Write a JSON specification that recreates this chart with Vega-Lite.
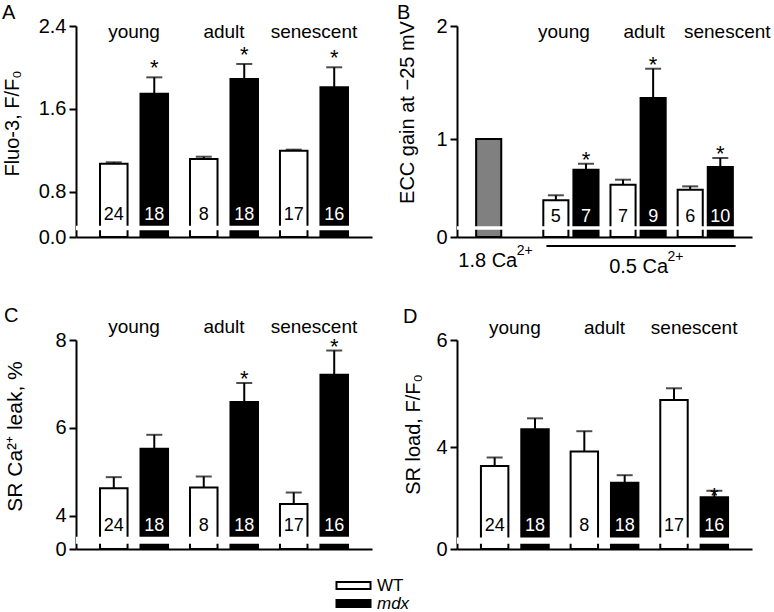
{
  "$schema": "https://vega.github.io/schema/vega-lite/v6.json",
  "autosize": {"type": "pad"},
  "padding": {"left": 2, "top": 3, "right": 0, "bottom": 4},
  "background": "white",
  "config": {
    "font": "Liberation Sans",
    "view": {"stroke": null},
    "axis": {"domainColor": "black", "domainWidth": 2, "tickColor": "black", "tickWidth": 2, "tickSize": 7, "labelColor": "black", "labelFontSize": 20, "labelPadding": 3, "titleFontSize": 20, "titleFontWeight": "normal", "titleColor": "black", "grid": false, "labelFont": "Liberation Sans", "titleFont": "Liberation Sans"},
    "title": {"fontSize": 20, "fontWeight": "normal", "color": "black", "anchor": "start", "frame": "bounds", "offset": -7, "font": "Liberation Sans"},
    "text": {"font": "Liberation Sans", "color": "black"}
  },
  "columns": 2,
  "spacing": {"row": 103, "column": 85},
  "bounds": "flush",
  "resolve": {"scale": {"x": "independent", "y": "independent", "xOffset": "independent", "fill": "shared"}},
  "concat": [
    {
      "width": 296, "height": 211,
      "title": {"text": "A"},
      "data": {"values": [
        {"group": "young", "genotype": "WT", "series": "WT", "value": 1.073, "err": 1.086, "n": 24, "sig": false},
        {"group": "young", "genotype": "mdx", "series": "mdx", "value": 1.747, "err": 1.905, "n": 18, "sig": true},
        {"group": "adult", "genotype": "WT", "series": "WT", "value": 1.118, "err": 1.140, "n": 8, "sig": false},
        {"group": "adult", "genotype": "mdx", "series": "mdx", "value": 1.889, "err": 2.034, "n": 18, "sig": true},
        {"group": "senescent", "genotype": "WT", "series": "WT", "value": 1.198, "err": 1.208, "n": 17, "sig": false},
        {"group": "senescent", "genotype": "mdx", "series": "mdx", "value": 1.809, "err": 2.002, "n": 16, "sig": true}
      ]},
      "encoding": {
        "x": {"field": "group", "type": "nominal", "sort": null, "scale": {"domain": ["young", "adult", "senescent"], "paddingInner": 0.244, "paddingOuter": 0.267}, "axis": {"title": null, "labels": false, "ticks": false}},
        "xOffset": {"field": "genotype", "type": "nominal", "scale": {"domain": ["WT", "mdx"], "paddingInner": 0.32, "paddingOuter": 0}}
      },
      "layer": [
        {"mark": {"type": "bar", "stroke": "black", "strokeWidth": 2},
         "encoding": {
           "y": {"field": "value", "type": "quantitative", "scale": {"domain": [0, 0.475, 2.4], "range": [211, 199.7, 0], "nice": false, "zero": false}, "axis": {"values": [0, 0.8, 1.6, 2.4], "format": ".1f", "title": "Fluo-3, F/F₀", "titleX": -54, "titleY": 97, "titleBaseline": "bottom"}},
           "y2": {"datum": 0},
           "fill": {"field": "series", "type": "nominal", "scale": {"domain": ["WT", "mdx", "1.8 Ca"], "range": ["white", "black", "#808080"]},
             "legend": {"title": null, "orient": "none", "legendX": 269, "legendY": 551, "direction": "vertical", "values": ["WT", "mdx"], "symbolType": "M-2.43,-0.5H2.43V0.5H-2.43Z", "symbolSize": 196, "symbolStrokeColor": "black", "symbolStrokeWidth": 2, "labelFontSize": 17, "labelOffset": 15, "rowPadding": 0, "padding": 0, "labelColor": "black", "labelFont": "Liberation Sans", "encode": {"labels": {"update": {"fontStyle": {"signal": "datum.label === 'mdx' ? 'italic' : 'normal'"}}}}}}
         }},
        {"transform": [{"filter": "isValid(datum.err)"}], "mark": {"type": "rule", "strokeWidth": 2, "color": "black"},
         "encoding": {"y": {"field": "value", "type": "quantitative"}, "y2": {"field": "err"}}},
        {"transform": [{"filter": "isValid(datum.err)"}], "mark": {"type": "tick", "size": 16, "thickness": 2, "color": "black"},
         "encoding": {"y": {"field": "err", "type": "quantitative"}}},
        {"mark": {"type": "rect", "fill": "white", "xOffset": -4, "x2Offset": 4}, "data": {"values": [{}]},
         "encoding": {"x": null, "xOffset": null, "y": {"datum": 0.28}, "y2": {"datum": 0.475}}},
        {"mark": {"type": "text", "fontSize": 18, "baseline": "middle", "dy": -22},
         "encoding": {"y": {"datum": 0}, "text": {"field": "n", "type": "nominal"},
           "color": {"condition": {"test": "datum.genotype === 'mdx'", "value": "white"}, "value": "black"}}},
        {"transform": [{"filter": "datum.sig"}], "mark": {"type": "text", "fontSize": 22, "baseline": "alphabetic", "dy": -2},
         "encoding": {"y": {"field": "err", "type": "quantitative"}, "text": {"value": "*"}}},
        {"transform": [{"filter": "datum.genotype === 'WT'"}], "mark": {"type": "text", "fontSize": 19, "baseline": "alphabetic", "dy": 12},
         "encoding": {"xOffset": null, "y": {"datum": 2.4}, "text": {"field": "group", "type": "nominal"}}}
      ]
    },
    {
      "width": 295, "height": 211,
      "title": {"text": "B"},
      "data": {"values": [
        {"group": "1.8 Ca", "genotype": "WT", "series": "1.8 Ca", "value": 1.0, "err": null, "n": null, "sig": false},
        {"group": "young", "genotype": "WT", "series": "WT", "value": 0.458, "err": 0.502, "n": 5, "sig": false},
        {"group": "young", "genotype": "mdx", "series": "mdx", "value": 0.728, "err": 0.781, "n": 7, "sig": true},
        {"group": "adult", "genotype": "WT", "series": "WT", "value": 0.596, "err": 0.640, "n": 7, "sig": false},
        {"group": "adult", "genotype": "mdx", "series": "mdx", "value": 1.363, "err": 1.622, "n": 9, "sig": true},
        {"group": "senescent", "genotype": "WT", "series": "WT", "value": 0.552, "err": 0.581, "n": 6, "sig": false},
        {"group": "senescent", "genotype": "mdx", "series": "mdx", "value": 0.752, "err": 0.832, "n": 10, "sig": true}
      ]},
      "encoding": {
        "x": {"field": "group", "type": "nominal", "sort": null, "scale": {"domain": ["1.8 Ca", "young", "adult", "senescent"], "paddingInner": 0.178, "paddingOuter": 0.285}, "axis": {"title": null, "labels": false, "ticks": false}},
        "xOffset": {"field": "genotype", "type": "nominal", "scale": {"domain": ["WT", "mdx"], "paddingInner": 0.166, "paddingOuter": 0}}
      },
      "layer": [
        {"mark": {"type": "bar", "stroke": "black", "strokeWidth": 2},
         "encoding": {
           "y": {"field": "value", "type": "quantitative", "scale": {"domain": [0, 0.2275, 2], "range": [211, 200.3, 0], "nice": false, "zero": false}, "axis": {"values": [0, 1, 2], "format": ".0f", "title": "ECC gain at −25 mV", "titleX": -40, "titleY": 86, "titleBaseline": "bottom"}},
           "y2": {"datum": 0},
           "fill": {"field": "series", "type": "nominal", "scale": {"domain": ["WT", "mdx", "1.8 Ca"], "range": ["white", "black", "#808080"]},
             "legend": {"title": null, "orient": "none", "legendX": 269, "legendY": 551, "direction": "vertical", "values": ["WT", "mdx"], "symbolType": "M-2.43,-0.5H2.43V0.5H-2.43Z", "symbolSize": 196, "symbolStrokeColor": "black", "symbolStrokeWidth": 2, "labelFontSize": 17, "labelOffset": 15, "rowPadding": 0, "padding": 0, "labelColor": "black", "labelFont": "Liberation Sans", "encode": {"labels": {"update": {"fontStyle": {"signal": "datum.label === 'mdx' ? 'italic' : 'normal'"}}}}}}
         }},
        {"transform": [{"filter": "isValid(datum.err)"}], "mark": {"type": "rule", "strokeWidth": 2, "color": "black"},
         "encoding": {"y": {"field": "value", "type": "quantitative"}, "y2": {"field": "err"}}},
        {"transform": [{"filter": "isValid(datum.err)"}], "mark": {"type": "tick", "size": 16, "thickness": 2, "color": "black"},
         "encoding": {"y": {"field": "err", "type": "quantitative"}}},
        {"mark": {"type": "rect", "fill": "white", "xOffset": -4, "x2Offset": 4}, "data": {"values": [{}]},
         "encoding": {"x": null, "xOffset": null, "y": {"datum": 0.155}, "y2": {"datum": 0.2275}}},
        {"transform": [{"filter": "isValid(datum.n)"}], "mark": {"type": "text", "fontSize": 18, "baseline": "middle", "dy": -20.5},
         "encoding": {"y": {"datum": 0}, "text": {"field": "n", "type": "nominal"},
           "color": {"condition": {"test": "datum.genotype === 'mdx'", "value": "white"}, "value": "black"}}},
        {"transform": [{"filter": "datum.sig"}], "mark": {"type": "text", "fontSize": 22, "baseline": "alphabetic", "dy": 3},
         "encoding": {"y": {"field": "err", "type": "quantitative"}, "text": {"value": "*"}}},
        {"data": {"values": [{}]}, "mark": {"type": "text", "fontSize": 19, "baseline": "alphabetic", "dy": 11.5, "dx": -7},
         "encoding": {"x": {"datum": "young"}, "xOffset": null, "y": {"datum": 2}, "text": {"value": "young"}}},
        {"data": {"values": [{}]}, "mark": {"type": "text", "fontSize": 19, "baseline": "alphabetic", "dy": 11.5, "dx": 6},
         "encoding": {"x": {"datum": "adult"}, "xOffset": null, "y": {"datum": 2}, "text": {"value": "adult"}}},
        {"data": {"values": [{}]}, "mark": {"type": "text", "fontSize": 19, "baseline": "alphabetic", "dy": 11.5, "dx": 22},
         "encoding": {"x": {"datum": "senescent"}, "xOffset": null, "y": {"datum": 2}, "text": {"value": "senescent"}}},
        {"data": {"values": [{}]}, "mark": {"type": "text", "fontSize": 20, "baseline": "alphabetic", "align": "right", "dy": 29.5, "dx": 13.5},
         "encoding": {"x": {"datum": "1.8 Ca"}, "xOffset": null, "y": {"datum": 0}, "text": {"value": "1.8 Ca"}}},
        {"data": {"values": [{}]}, "mark": {"type": "text", "fontSize": 14, "baseline": "alphabetic", "align": "left", "dy": 18, "dx": 13},
         "encoding": {"x": {"datum": "1.8 Ca"}, "xOffset": null, "y": {"datum": 0}, "text": {"value": "2+"}}},
        {"data": {"values": [{}]}, "mark": {"type": "text", "fontSize": 20, "baseline": "alphabetic", "align": "right", "dy": 35.5, "dx": 30},
         "encoding": {"x": {"datum": "adult"}, "xOffset": null, "y": {"datum": 0}, "text": {"value": "0.5 Ca"}}},
        {"data": {"values": [{}]}, "mark": {"type": "text", "fontSize": 14, "baseline": "alphabetic", "align": "left", "dy": 24, "dx": 29.5},
         "encoding": {"x": {"datum": "adult"}, "xOffset": null, "y": {"datum": 0}, "text": {"value": "2+"}}},
        {"data": {"values": [{}]}, "mark": {"type": "rule", "strokeWidth": 2, "color": "black", "xOffset": -24.5, "x2Offset": 30.4, "yOffset": 9},
         "encoding": {"x": {"datum": "young"}, "x2": {"datum": "senescent"}, "xOffset": null, "y": {"datum": 0}}}
      ]
    },
    {
      "width": 296, "height": 209,
      "title": {"text": "C", "offset": -8},
      "data": {"values": [
        {"group": "young", "genotype": "WT", "series": "WT", "value": 4.62, "err": 4.875, "n": 24, "sig": false},
        {"group": "young", "genotype": "mdx", "series": "mdx", "value": 5.52, "err": 5.84, "n": 18, "sig": false},
        {"group": "adult", "genotype": "WT", "series": "WT", "value": 4.64, "err": 4.89, "n": 8, "sig": false},
        {"group": "adult", "genotype": "mdx", "series": "mdx", "value": 6.59, "err": 7.02, "n": 18, "sig": true},
        {"group": "senescent", "genotype": "WT", "series": "WT", "value": 4.265, "err": 4.525, "n": 17, "sig": false},
        {"group": "senescent", "genotype": "mdx", "series": "mdx", "value": 7.21, "err": 7.76, "n": 16, "sig": true}
      ]},
      "encoding": {
        "x": {"field": "group", "type": "nominal", "sort": null, "scale": {"domain": ["young", "adult", "senescent"], "paddingInner": 0.244, "paddingOuter": 0.267}, "axis": {"title": null, "labels": false, "ticks": false}},
        "xOffset": {"field": "genotype", "type": "nominal", "scale": {"domain": ["WT", "mdx"], "paddingInner": 0.32, "paddingOuter": 0}}
      },
      "layer": [
        {"mark": {"type": "bar", "stroke": "black", "strokeWidth": 2},
         "encoding": {
           "y": {"field": "value", "type": "quantitative", "scale": {"domain": [0, 3.516, 8], "range": [209, 196.8, 0], "nice": false, "zero": false}, "axis": {"values": [0, 4, 6, 8], "title": "SR Ca²⁺ leak, %", "titleX": -51, "titleY": 96, "titleBaseline": "bottom", "titleFontSize": 21}},
           "y2": {"datum": 0},
           "fill": {"field": "series", "type": "nominal", "scale": {"domain": ["WT", "mdx", "1.8 Ca"], "range": ["white", "black", "#808080"]},
             "legend": {"title": null, "orient": "none", "legendX": 269, "legendY": 551, "direction": "vertical", "values": ["WT", "mdx"], "symbolType": "M-2.43,-0.5H2.43V0.5H-2.43Z", "symbolSize": 196, "symbolStrokeColor": "black", "symbolStrokeWidth": 2, "labelFontSize": 17, "labelOffset": 15, "rowPadding": 0, "padding": 0, "labelColor": "black", "labelFont": "Liberation Sans", "encode": {"labels": {"update": {"fontStyle": {"signal": "datum.label === 'mdx' ? 'italic' : 'normal'"}}}}}}
         }},
        {"transform": [{"filter": "isValid(datum.err)"}], "mark": {"type": "rule", "strokeWidth": 2, "color": "black"},
         "encoding": {"y": {"field": "value", "type": "quantitative"}, "y2": {"field": "err"}}},
        {"transform": [{"filter": "isValid(datum.err)"}], "mark": {"type": "tick", "size": 16, "thickness": 2, "color": "black"},
         "encoding": {"y": {"field": "err", "type": "quantitative"}}},
        {"mark": {"type": "rect", "fill": "white", "xOffset": -4, "x2Offset": 4}, "data": {"values": [{}]},
         "encoding": {"x": null, "xOffset": null, "y": {"datum": 1.5}, "y2": {"datum": 3.516}}},
        {"mark": {"type": "text", "fontSize": 18, "baseline": "middle", "dy": -23},
         "encoding": {"y": {"datum": 0}, "text": {"field": "n", "type": "nominal"},
           "color": {"condition": {"test": "datum.genotype === 'mdx'", "value": "white"}, "value": "black"}}},
        {"transform": [{"filter": "datum.sig"}], "mark": {"type": "text", "fontSize": 22, "baseline": "alphabetic", "dy": 3},
         "encoding": {"y": {"field": "err", "type": "quantitative"}, "text": {"value": "*"}}},
        {"transform": [{"filter": "datum.genotype === 'WT'"}], "mark": {"type": "text", "fontSize": 19, "baseline": "alphabetic", "dy": -7},
         "encoding": {"xOffset": null, "y": {"datum": 8}, "text": {"field": "group", "type": "nominal"}}}
      ]
    },
    {
      "width": 295, "height": 209,
      "title": {"text": "D", "offset": -8},
      "data": {"values": [
        {"group": "young", "genotype": "WT", "series": "WT", "value": 3.65, "err": 3.81, "n": 24, "sig": false},
        {"group": "young", "genotype": "mdx", "series": "mdx", "value": 4.335, "err": 4.54, "n": 18, "sig": false},
        {"group": "adult", "genotype": "WT", "series": "WT", "value": 3.92, "err": 4.30, "n": 8, "sig": false},
        {"group": "adult", "genotype": "mdx", "series": "mdx", "value": 3.34, "err": 3.48, "n": 18, "sig": false},
        {"group": "senescent", "genotype": "WT", "series": "WT", "value": 4.88, "err": 5.10, "n": 17, "sig": false},
        {"group": "senescent", "genotype": "mdx", "series": "mdx", "value": 3.07, "err": 3.19, "n": 16, "sig": true}
      ]},
      "encoding": {
        "x": {"field": "group", "type": "nominal", "sort": null, "scale": {"domain": ["young", "adult", "senescent"], "paddingInner": 0.244, "paddingOuter": 0.267}, "axis": {"title": null, "labels": false, "ticks": false}},
        "xOffset": {"field": "genotype", "type": "nominal", "scale": {"domain": ["WT", "mdx"], "paddingInner": 0.32, "paddingOuter": 0}}
      },
      "layer": [
        {"mark": {"type": "bar", "stroke": "black", "strokeWidth": 2},
         "encoding": {
           "y": {"field": "value", "type": "quantitative", "scale": {"domain": [0, 2.317, 6], "range": [209, 197.6, 0], "nice": false, "zero": false}, "axis": {"values": [0, 4, 6], "title": "SR load, F/F₀", "titleX": -34, "titleY": 94, "titleBaseline": "bottom"}},
           "y2": {"datum": 0},
           "fill": {"field": "series", "type": "nominal", "scale": {"domain": ["WT", "mdx", "1.8 Ca"], "range": ["white", "black", "#808080"]},
             "legend": {"title": null, "orient": "none", "legendX": 269, "legendY": 551, "direction": "vertical", "values": ["WT", "mdx"], "symbolType": "M-2.43,-0.5H2.43V0.5H-2.43Z", "symbolSize": 196, "symbolStrokeColor": "black", "symbolStrokeWidth": 2, "labelFontSize": 17, "labelOffset": 15, "rowPadding": 0, "padding": 0, "labelColor": "black", "labelFont": "Liberation Sans", "encode": {"labels": {"update": {"fontStyle": {"signal": "datum.label === 'mdx' ? 'italic' : 'normal'"}}}}}}
         }},
        {"transform": [{"filter": "isValid(datum.err)"}], "mark": {"type": "rule", "strokeWidth": 2, "color": "black"},
         "encoding": {"y": {"field": "value", "type": "quantitative"}, "y2": {"field": "err"}}},
        {"transform": [{"filter": "isValid(datum.err)"}], "mark": {"type": "tick", "size": 16, "thickness": 2, "color": "black"},
         "encoding": {"y": {"field": "err", "type": "quantitative"}}},
        {"mark": {"type": "rect", "fill": "white", "xOffset": -4, "x2Offset": 4}, "data": {"values": [{}]},
         "encoding": {"x": null, "xOffset": null, "y": {"datum": 1.06}, "y2": {"datum": 2.317}}},
        {"mark": {"type": "text", "fontSize": 18, "baseline": "middle", "dy": -22.7},
         "encoding": {"y": {"datum": 0}, "text": {"field": "n", "type": "nominal"},
           "color": {"condition": {"test": "datum.genotype === 'mdx'", "value": "white"}, "value": "black"}}},
        {"transform": [{"filter": "datum.sig"}], "mark": {"type": "text", "fontSize": 22, "baseline": "alphabetic", "dy": 12.5},
         "encoding": {"y": {"field": "err", "type": "quantitative"}, "text": {"value": "*"}}},
        {"transform": [{"filter": "datum.genotype === 'WT'"}], "mark": {"type": "text", "fontSize": 19, "baseline": "alphabetic", "dy": -6},
         "encoding": {"xOffset": null, "y": {"datum": 6}, "text": {"field": "group", "type": "nominal"}}}
      ]
    }
  ]
}
